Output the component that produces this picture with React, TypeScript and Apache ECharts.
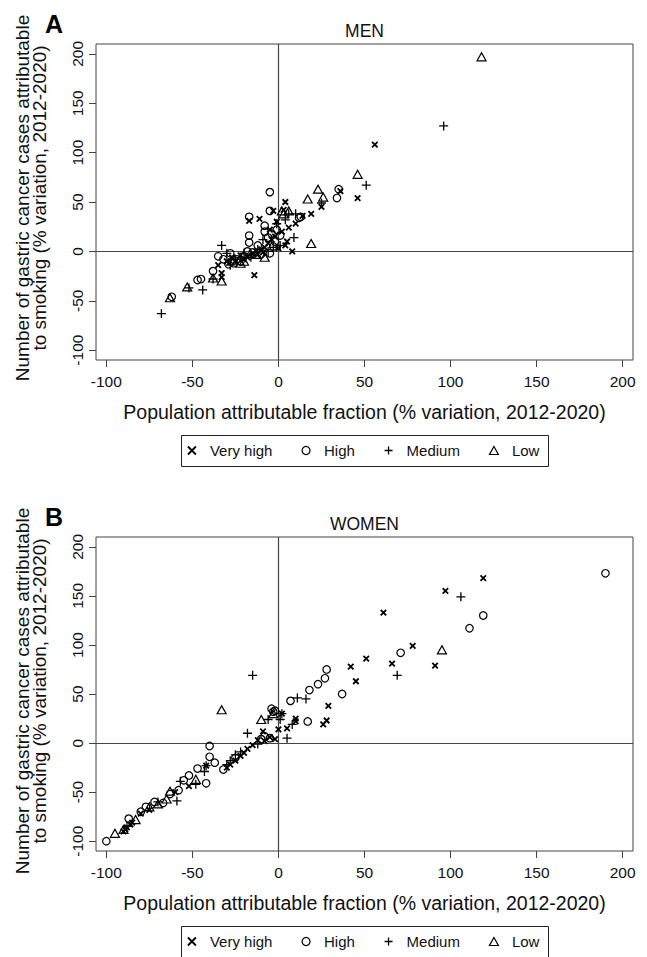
import React, { useEffect, useRef } from "react";
import * as echarts from "echarts";

const categories = ["Very high", "High", "Medium", "Low"];
const tickValues = [-100, -50, 0, 50, 100, 150, 200];
const panelTitles = ["MEN", "WOMEN"];
const panelLetters = ["A", "B"];
const xTitle = "Population attributable fraction (% variation, 2012-2020)";
const yTitle = "Number of gastric cancer cases attributable\nto smoking (% variation, 2012-2020)";

const menVeryHigh = [
  [56, 108], [46, 54], [36, 61], [19, 38], [25, 45], [14, 36], [4, 50], [3, 42], [6, 24], [8, 0],
  [4, 6], [10, 28], [5, 10], [2, 20], [0, 3], [-1, 30], [-3, 41], [-2, 15], [-4, 12], [-5, 22],
  [-6, 8], [-8, 4], [-9, -1], [-10, 2], [-11, 33], [-12, -3], [-14, -24], [-15, -2], [-17, 31],
  [-18, -6], [-20, -8], [-22, -4], [-25, -10], [-27, -6], [-30, -10], [-33, -22], [-33, -26], [-35, -14],
];
const menHigh = [
  [35, 63], [34, 54], [13, 35], [12, 34], [1, 16], [-1, 22], [-2, 10], [-3, 5], [-4, 18], [-5, 60],
  [-5, 41], [-5, -2], [-6, 14], [-8, 26], [-8, 20], [-10, -3], [-12, 6], [-15, -1], [-17, 35], [-17, 16],
  [-17, 9], [-18, 0], [-20, -5], [-22, -10], [-24, -8], [-26, -12], [-28, -2], [-29, -13], [-32, -8],
  [-35, -5], [-38, -20], [-45, -28], [-47, -29], [-62, -46],
];
const menMedium = [
  [96, 127], [51, 67], [25, 49], [10, 38], [6, 38], [4, 32], [9, 14], [1, 6], [-1, 28], [-3, 4],
  [-6, 0], [-9, 12], [-12, 2], [-16, -6], [-20, -2], [-22, -6], [-25, -8], [-28, -14], [-30, -2],
  [-33, 6], [-38, -28], [-44, -39], [-52, -37], [-68, -63],
];
const menLow = [
  [118, 197], [46, 78], [26, 55], [23, 63], [17, 53], [6, 41], [3, 38], [2, 41], [19, 8], [-8, -6],
  [-13, -3], [-20, -10], [-22, -12], [-27, -9], [-33, -30], [-38, -27], [-53, -36], [-63, -47],
];

const womenVeryHigh = [
  [119, 168], [97, 155], [91, 79], [78, 99], [66, 81], [61, 133], [51, 86], [45, 63], [42, 78], [29, 38],
  [28, 23], [26, 19], [10, 25], [10, 22], [5, 15], [2, 30], [0, 14], [-2, 4], [-5, 6], [-8, 2],
  [-9, 12], [-12, 3], [-15, -2], [-18, -6], [-20, -10], [-22, -13], [-25, -18], [-28, -22], [-30, -25],
  [-42, -23], [-52, -44], [-60, -50], [-75, -68], [-80, -72], [-85, -81], [-86, -83], [-88, -86],
  [-89, -88], [-90, -90],
];
const womenHigh = [
  [190, 173], [119, 130], [111, 117], [71, 92], [37, 50], [28, 75], [27, 66], [23, 60], [18, 54],
  [17, 22], [7, 43], [-2, 33], [-3, 32], [-4, 35], [-5, 5], [-8, 7], [-10, 4], [-25, -15], [-32, -27],
  [-37, -20], [-40, -3], [-40, -14], [-42, -41], [-47, -26], [-52, -33], [-55, -38], [-58, -48],
  [-63, -52], [-67, -61], [-72, -60], [-77, -65], [-80, -70], [-87, -77], [-100, -100],
];
const womenMedium = [
  [106, 149], [69, 69], [16, 45], [11, 46], [8, 19], [5, 5], [2, 30], [1, 24], [-6, 24], [-12, -1],
  [-15, 69], [-18, 10], [-22, -9], [-25, -12], [-28, -18], [-30, -22], [-42, -23], [-43, -29],
  [-48, -42], [-57, -39], [-59, -59], [-70, -60], [-88, -85],
];
const womenLow = [
  [95, 95], [-3, 30], [-10, 24], [-33, 34], [-48, -37], [-63, -49], [-65, -57], [-70, -62],
  [-75, -65], [-83, -78], [-90, -88], [-95, -92],
];

const FONT = "'Liberation Sans', Arial, Helvetica, sans-serif";
const INK = "#111";
const LINE = "#444";

const SYMBOL: Record<string, string> = {
  "Very high": "path://M0,0L10,10M10,0L0,10",
  High: "circle",
  Medium: "path://M0,5L10,5M5,0L5,10",
  Low: "path://M5,0L10,9L0,9Z",
};
const SIZE: Record<string, any> = {
  "Very high": 5.5,
  High: 7.5,
  Medium: 9,
  Low: [9, 8],
};
const STROKE: Record<string, number> = {
  "Very high": 1.8,
  High: 1.2,
  Medium: 1.3,
  Low: 1.2,
};

const panels = [
  { top: 44, height: 316, series: [menVeryHigh, menHigh, menMedium, menLow] },
  { top: 537, height: 314, series: [womenVeryHigh, womenHigh, womenMedium, womenLow] },
];

function buildOption() {
  const grid = panels.map((p) => ({
    left: 96,
    width: 537,
    top: p.top,
    height: p.height,
    show: true,
    borderColor: LINE,
    borderWidth: 1,
    backgroundColor: "transparent",
  }));

  const xAxis = panels.map((_, i) => ({
    type: "value",
    gridIndex: i,
    min: -106,
    max: 206,
    axisLine: { show: false, onZero: false },
    axisTick: {
      show: true,
      inside: false,
      length: 7,
      customValues: tickValues,
      lineStyle: { color: LINE, width: 1 },
    },
    axisLabel: {
      customValues: tickValues,
      margin: 13,
      fontSize: 15.5,
      color: INK,
      fontFamily: FONT,
    },
    splitLine: { show: false },
  }));

  const yAxis = panels.map((_, i) => ({
    type: "value",
    gridIndex: i,
    min: -110,
    max: 210,
    axisLine: { show: false, onZero: false },
    axisTick: {
      show: true,
      inside: false,
      length: 7,
      customValues: tickValues,
      lineStyle: { color: LINE, width: 1 },
    },
    axisLabel: {
      customValues: tickValues,
      rotate: 90,
      margin: 11,
      fontSize: 15.5,
      color: INK,
      fontFamily: FONT,
    },
    splitLine: { show: false },
  }));

  const series: any[] = [];
  panels.forEach((p, i) => {
    p.series.forEach((data, j) => {
      const name = categories[j];
      const s: any = {
        type: "scatter",
        name,
        xAxisIndex: i,
        yAxisIndex: i,
        data,
        symbol: SYMBOL[name],
        symbolSize: SIZE[name],
        itemStyle: {
          color: "rgba(0,0,0,0)",
          borderColor: "#000",
          borderWidth: STROKE[name],
          opacity: 1,
        },
        emphasis: { disabled: true },
        z: 3,
      };
      if (j === 0) {
        s.markLine = {
          silent: true,
          symbol: ["none", "none"],
          label: { show: false },
          lineStyle: { color: LINE, width: 1.2, type: "solid" },
          emphasis: { disabled: true },
          data: [{ xAxis: 0 }, { yAxis: 0 }],
          z: 1,
        };
      }
      series.push(s);
    });
  });

  const legendTops = [443, 934];
  const legend = legendTops.map((top) => ({
    left: 187,
    top,
    orient: "horizontal",
    padding: 0,
    itemWidth: 26,
    itemHeight: 8,
    itemGap: 29,
    selectedMode: false,
    textStyle: { fontSize: 15, color: INK, fontFamily: FONT },
    data: categories.map((c) => ({
      name: c,
      icon: SYMBOL[c],
      itemStyle: {
        color: "rgba(0,0,0,0)",
        borderColor: "#000",
        borderWidth: STROKE[c],
      },
    })),
  }));

  const elements: any[] = [];
  const offsets = [0, 493];
  const belowOffsets = [0, 491];
  panelTitles.forEach((t, i) => {
    elements.push({
      type: "text",
      x: 54,
      y: 24 + offsets[i],
      style: {
        text: panelLetters[i],
        fontSize: 25,
        fontWeight: "bold",
        fontFamily: FONT,
        fill: "#000",
        align: "center",
        verticalAlign: "middle",
      },
    });
    elements.push({
      type: "text",
      x: 364.5,
      y: 31 + offsets[i],
      style: {
        text: t,
        fontSize: 17.5,
        fontFamily: FONT,
        fill: INK,
        align: "center",
        verticalAlign: "middle",
      },
    });
    elements.push({
      type: "text",
      x: 364.5,
      y: 412 + belowOffsets[i],
      style: {
        text: xTitle,
        fontSize: 19.5,
        fontFamily: FONT,
        fill: INK,
        align: "center",
        verticalAlign: "middle",
      },
    });
    elements.push({
      type: "text",
      x: 31,
      y: 198 + offsets[i],
      rotation: Math.PI / 2,
      style: {
        text: yTitle,
        fontSize: 19,
        lineHeight: 17,
        fontFamily: FONT,
        fill: INK,
        align: "center",
        verticalAlign: "middle",
      },
    });
    elements.push({
      type: "rect",
      shape: { x: 181.5, y: 435.5 + belowOffsets[i], width: 367, height: 31 },
      style: { fill: "none", stroke: "#222", lineWidth: 1 },
      silent: true,
    });
  });

  return {
    animation: false,
    backgroundColor: "#fff",
    grid,
    xAxis,
    yAxis,
    legend,
    series,
    graphic: { elements },
  };
}

export default function App() {
  const ref = useRef<HTMLDivElement>(null);
  useEffect(() => {
    const chart = echarts.init(ref.current!, null, { renderer: "svg" });
    chart.setOption(buildOption() as any);
    return () => chart.dispose();
  }, []);
  return (
    <div
      ref={ref}
      style={{ position: "absolute", left: 0, top: 0, width: 647, height: 957, background: "#fff" }}
    />
  );
}
